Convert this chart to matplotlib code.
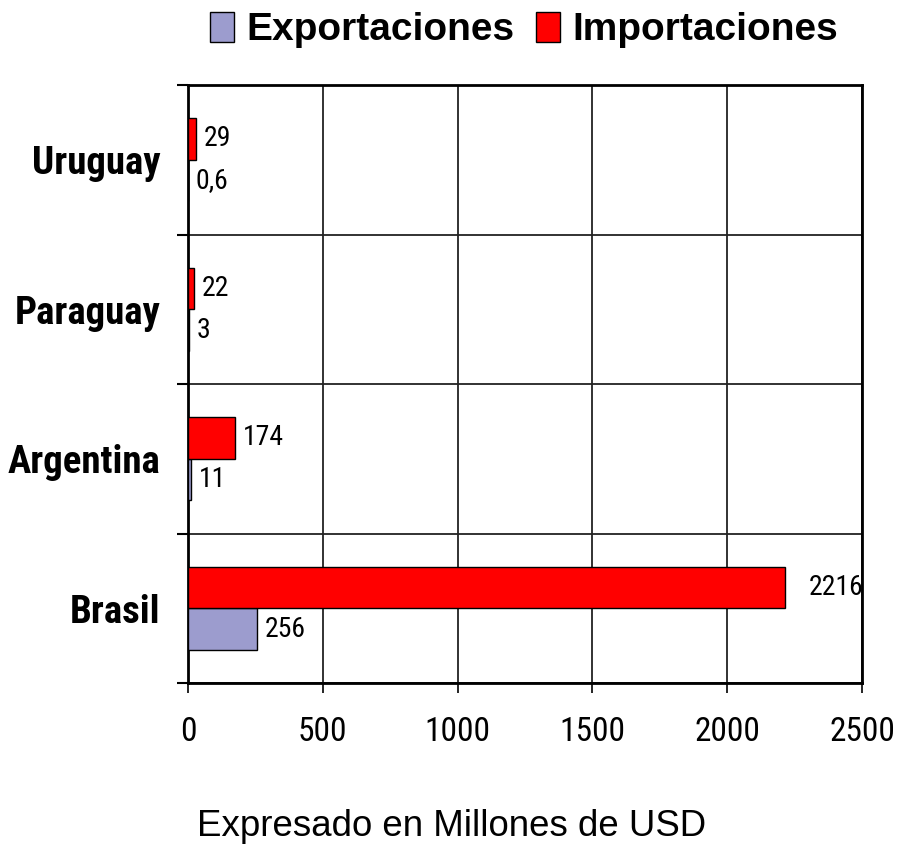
import matplotlib
matplotlib.use("Agg")
import matplotlib.pyplot as plt
import numpy as np
from matplotlib import font_manager as fm

names = {f.name for f in fm.fontManager.ttflist}
def pick(*opts):
    for o in opts:
        if o in names:
            return o
    return 'DejaVu Sans'

COND = pick('Liberation Sans Narrow', 'Roboto Condensed', 'Barlow Condensed', 'Archivo Narrow')
ARIAL = pick('Liberation Sans', 'Arimo', 'DejaVu Sans')

categories = ["Brasil", "Argentina", "Paraguay", "Uruguay"]
exportaciones = [256, 11, 3, 0.6]
importaciones = [2216, 174, 22, 29]
export_labels = ["256", "11", "3", "0,6"]
import_labels = ["2216", "174", "22", "29"]
xticks = [0, 500, 1000, 1500, 2000, 2500]

W, H = 898, 844
fig = plt.figure(figsize=(W/100, H/100), dpi=100)
ax = fig.add_axes([188/W, 1-683/H, (862-188)/W, (683-85)/H])

y = np.arange(len(categories))
h = 0.278
b1 = ax.barh(y - h/2, exportaciones, height=h, color='#9C9CCE', edgecolor='black',
             linewidth=1, label='Exportaciones', zorder=3)
b2 = ax.barh(y + h/2, importaciones, height=h, color='#FF0000', edgecolor='black',
             linewidth=1, label='Importaciones', zorder=3)

for rect, lab in zip(b1, export_labels):
    ax.annotate(lab, (rect.get_width(), rect.get_y() + rect.get_height()/2),
                xytext=(5.5, 0), textcoords='offset points', va='center', ha='left',
                fontsize=20, family=COND)
for rect, lab in zip(b2, import_labels):
    off = 16.5 if rect.get_width() > 1000 else 5.5
    ax.annotate(lab, (rect.get_width(), rect.get_y() + rect.get_height()/2),
                xytext=(off, 0), textcoords='offset points', va='center', ha='left',
                fontsize=20, family=COND)

ax.set_xlim(0, 2500)
ax.set_ylim(-0.5, len(categories) - 0.5)
ax.set_xticks(xticks)
ax.set_xticklabels([str(t) for t in xticks], fontsize=24, family=COND)
ax.tick_params(axis='x', length=7, width=1.2, pad=17, direction='out')
ax.set_yticks(y)
ax.set_yticklabels(categories, fontsize=28, fontweight='bold', family=COND)
ax.tick_params(axis='y', which='major', length=0, pad=20)
ax.set_yticks(np.arange(-0.5, len(categories), 1.0), minor=True)
ax.tick_params(axis='y', which='minor', length=8, width=1.5)
ax.grid(True, axis='x', color='#222222', linewidth=1.3, zorder=0)
ax.grid(True, axis='y', which='minor', color='#222222', linewidth=1.3, zorder=0)
for s in ax.spines.values():
    s.set_linewidth(2)
    s.set_color('black')

fs_leg = 28
em = fs_leg * 100 / 72
fig.legend(handles=[b1, b2], labels=['Exportaciones', 'Importaciones'], loc='center',
           bbox_to_anchor=(524/W, 1-30/H), ncol=2, frameon=False, borderpad=0,
           prop={'family': ARIAL, 'weight': 'bold', 'size': fs_leg},
           handlelength=24/em, handleheight=32/em, handletextpad=12/em, columnspacing=22/em)

fig.text(452/W, 1-836/H, "Expresado en Millones de USD", ha='center', va='baseline',
         fontsize=26.4, family=ARIAL)

fig.savefig("out.png", dpi=100)
